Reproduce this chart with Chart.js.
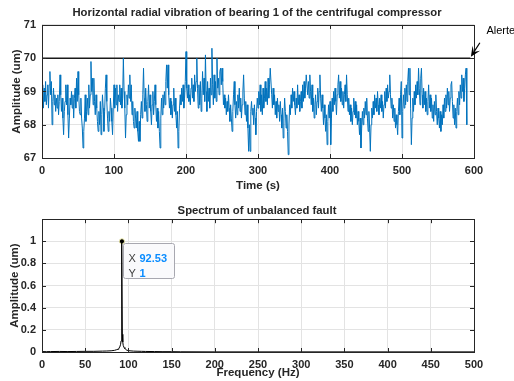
<!DOCTYPE html>
<html>
<head>
<meta charset="utf-8">
<script src="https://cdn.jsdelivr.net/npm/chart.js@4.4.0/dist/chart.umd.min.js"></script>
<style>
  html, body { margin: 0; padding: 0; background: #fff; }
  #wrap { position: relative; width: 514px; height: 381px; }
  #c1 { position: absolute; left: 0; top: 0; }
  #c2 { position: absolute; left: 0; top: 195px; }
</style>
</head>
<body>
<div id="wrap">
  <canvas id="c1" width="514" height="195"></canvas>
  <canvas id="c2" width="514" height="186"></canvas>
</div>
<script>
// vibration amplitude (um), one sample per second from t = 0 s
const sampleStep = 1;
const vibration = [
  68.6, 69.2, 68.5, 69.1, 68.7, 69.3, 68.6, 68.9, 69.2, 68.5,
  69.2, 69.6, 68.9, 69.3, 68.0, 68.7, 69.1, 68.6, 68.9, 68.4,
  68.8, 68.5, 68.9, 68.3, 68.7, 69.5, 68.9, 68.4, 68.8, 68.2,
  67.7, 68.4, 68.7, 69.2, 68.6, 69.2, 68.3, 67.6, 68.2, 68.8,
  68.6, 69.0, 68.5, 68.9, 68.2, 68.8, 69.1, 68.5, 69.4, 68.7,
  69.6, 68.9, 68.4, 68.3, 68.8, 68.2, 67.9, 67.3, 67.8, 68.2,
  68.9, 68.1, 68.4, 68.8, 68.3, 69.2, 68.5, 68.9, 69.9, 69.0,
  69.4, 68.6, 69.4, 68.7, 68.3, 68.9, 68.5, 68.1, 67.8, 68.4,
  68.0, 68.7, 67.7, 68.3, 68.9, 68.5, 67.8, 68.4, 69.1, 69.5,
  68.7, 68.2, 67.8, 68.4, 68.1, 68.8, 68.5, 68.1, 67.7, 68.5,
  69.2, 68.5, 69.1, 68.6, 69.2, 68.4, 68.9, 68.7, 69.2, 68.6,
  69.1, 68.5, 68.8, 70.0, 69.0, 68.5, 67.6, 68.3, 68.9, 68.6,
  69.2, 68.8, 69.5, 68.7, 69.2, 68.3, 68.7, 68.1, 67.9, 68.5,
  68.2, 67.9, 68.4, 67.8, 67.5, 68.1, 67.5, 68.3, 68.7, 68.2,
  68.9, 69.7, 68.8, 68.4, 69.1, 68.6, 68.1, 68.7, 69.2, 68.5,
  68.9, 68.4, 68.0, 68.6, 69.0, 68.3, 68.7, 69.2, 68.6, 68.1,
  68.5, 67.9, 68.4, 67.8, 67.3, 68.2, 68.8, 68.3, 68.9, 68.5,
  69.0, 68.6, 69.3, 69.8, 69.1, 69.8, 68.9, 68.5, 68.8, 68.3,
  68.7, 68.2, 68.6, 69.1, 68.4, 68.8, 68.3, 67.9, 68.4, 67.3,
  67.8, 68.5, 68.9, 68.6, 69.1, 68.7, 69.2, 68.5, 68.8, 69.3,
  70.2, 69.1, 68.8, 69.2, 68.7, 68.9, 68.6, 69.1, 69.4, 68.8,
  69.2, 68.7, 69.5, 69.0, 69.3, 70.0, 69.1, 68.5, 69.2, 68.6,
  69.3, 68.4, 68.8, 69.6, 68.9, 69.4, 68.7, 70.1, 69.0, 68.4,
  69.3, 68.7, 69.1, 68.5, 69.4, 68.9, 70.3, 69.2, 68.6, 69.5,
  68.8, 69.3, 68.7, 70.0, 69.1, 69.4, 68.9, 69.6, 69.7, 69.2,
  69.7, 69.3, 68.6, 68.9, 68.5, 68.8, 68.3, 68.7, 68.4, 68.9,
  68.5, 68.1, 68.6, 68.2, 67.8, 68.4, 68.9, 69.3, 68.6, 68.2,
  68.7, 68.3, 68.9, 68.5, 69.1, 68.4, 68.8, 68.2, 68.6, 69.0,
  69.5, 68.8, 68.3, 68.7, 68.1, 68.6, 67.9, 67.2, 68.0, 67.2,
  68.4, 68.7, 68.3, 68.5, 68.0, 68.6, 68.2, 67.7, 68.4, 68.8,
  68.5, 69.0, 68.6, 69.2, 68.4, 68.9, 68.3, 69.1, 68.5, 68.8,
  69.3, 68.7, 69.1, 68.6, 69.4, 68.8, 69.2, 69.7, 69.7, 68.9,
  68.5, 69.1, 68.6, 68.9, 68.3, 68.7, 68.2, 68.8, 68.4, 68.6,
  68.1, 68.7, 68.3, 67.9, 68.5, 67.6, 68.2, 68.8, 68.4, 67.9,
  68.3, 67.8, 67.1, 68.0, 68.6, 68.3, 68.9, 68.5, 69.1, 68.7,
  69.0, 68.6, 68.3, 68.8, 68.5, 69.2, 68.6, 68.9, 68.4, 68.7,
  69.0, 68.5, 69.2, 68.7, 69.3, 68.8, 69.1, 69.5, 69.5, 68.9,
  69.3, 68.8, 69.5, 69.0, 68.6, 69.2, 68.4, 68.8, 68.2, 68.6,
  68.9, 68.3, 68.7, 69.1, 68.5, 69.0, 69.5, 68.8, 68.4, 68.9,
  68.5, 68.0, 68.6, 68.2, 67.8, 68.3, 67.4, 68.1, 68.6, 68.2,
  68.7, 67.4, 68.2, 68.8, 68.4, 69.0, 68.6, 69.1, 68.7, 68.3,
  68.9, 69.2, 69.5, 68.8, 69.3, 68.7, 69.1, 68.6, 69.0, 68.5,
  68.9, 69.2, 68.7, 69.5, 68.9, 68.4, 68.8, 68.3, 68.6, 68.1,
  68.5, 68.0, 68.4, 68.8, 68.3, 68.7, 68.2, 68.6, 68.0, 68.4,
  68.1, 67.7, 68.2, 67.3, 67.9, 68.4, 68.0, 68.5, 68.2, 68.7,
  68.3, 68.8, 68.2, 67.8, 68.4, 67.9, 67.2, 68.0, 68.5, 68.2,
  68.7, 68.3, 68.9, 68.5, 68.8, 68.4, 69.0, 68.6, 68.3, 68.8,
  68.5, 68.9, 68.4, 68.7, 68.2, 68.6, 69.0, 68.5, 69.1, 68.7,
  69.2, 68.8, 69.0, 69.5, 68.9, 68.5, 68.8, 68.2, 68.6, 68.1,
  68.5, 67.9, 68.3, 68.0, 67.7, 68.4, 68.8, 68.3, 68.9, 69.3,
  67.6, 68.4, 68.9, 68.5, 69.1, 68.6, 69.2, 68.7, 69.3, 69.7,
  68.9, 69.7, 68.5, 67.4, 68.2, 68.8, 68.4, 69.0, 68.6, 69.2,
  68.8, 69.3, 68.9, 69.7, 69.1, 68.6, 69.4, 69.7, 68.9, 68.5,
  69.1, 68.6, 69.0, 68.4, 68.8, 68.3, 68.7, 69.2, 68.5, 68.9,
  68.4, 68.8, 68.2, 68.6, 68.1, 68.7, 68.3, 68.9, 68.4, 68.0,
  68.5, 68.2, 67.9, 68.4, 67.8, 68.3, 68.0, 68.6, 68.2, 68.8,
  68.4, 68.9, 68.5, 69.1, 68.6, 69.0, 68.4, 68.8, 69.2, 69.3,
  68.7, 68.2, 68.6, 68.0, 68.5, 67.9, 68.4, 68.8, 68.3, 69.0,
  68.6, 69.2, 68.8, 69.5, 69.0, 69.4, 68.7, 69.1, 69.5, 69.7,
  68.0
];
const alertTime = [0, 595];
const alertLevel = [70, 70];

// amplitude spectrum
const specFreq = [0, 5, 10, 20, 30, 40, 50, 60, 70, 75, 80, 84, 86, 88, 89, 90, 91, 91.5, 92, 92.53,
                  93, 93.5, 94, 95, 96, 97, 98, 100, 103, 106, 110, 115, 120, 130, 140, 150, 160, 200, 300, 400, 500];
const specAmp = [0.004, 0.003, 0.004, 0.005, 0.004, 0.005, 0.006, 0.006, 0.008, 0.009, 0.011, 0.015, 0.02, 0.025, 0.035, 0.045, 0.07, 0.1, 0.17, 1,
                 0.16, 0.09, 0.06, 0.04, 0.03, 0.022, 0.017, 0.012, 0.01, 0.008, 0.007, 0.006, 0.005, 0.004, 0.003, 0.003, 0.002, 0.001, 0.001, 0.001, 0.001];
const peakFreq = 92.53;
const peakAmp = 1;

const axisColor = '#262626';
const gridColor = '#e3e3e3';
const lineBlue = '#0072BD';
const fontFamily = "'Liberation Sans', Arial, Helvetica, sans-serif";

Chart.defaults.font.family = fontFamily;
Chart.defaults.font.size = 11;
Chart.defaults.font.weight = 'bold';
Chart.defaults.color = axisColor;

// box around the axes + inward tick marks like matlab
const boxTicks = {
  id: 'boxTicks',
  afterDatasetsDraw(chart) {
    const {ctx, chartArea: a, scales: {x, y}} = chart;
    const len = 4;
    ctx.save();
    ctx.strokeStyle = axisColor;
    ctx.lineWidth = 1;
    ctx.beginPath();
    x.ticks.forEach(t => {
      const px = Math.round(x.getPixelForValue(t.value)) + 0.5;
      ctx.moveTo(px, a.bottom); ctx.lineTo(px, a.bottom - len);
      ctx.moveTo(px, a.top); ctx.lineTo(px, a.top + len);
    });
    y.ticks.forEach(t => {
      const py = Math.round(y.getPixelForValue(t.value)) + 0.5;
      ctx.moveTo(a.left, py); ctx.lineTo(a.left + len, py);
      ctx.moveTo(a.right, py); ctx.lineTo(a.right - len, py);
    });
    ctx.stroke();
    ctx.strokeRect(Math.round(a.left) + 0.5, Math.round(a.top) + 0.5,
                   Math.round(a.right - a.left), Math.round(a.bottom - a.top));
    ctx.restore();
  }
};

// "Alerte" arrow pointing at the end of the alert line
const alertArrow = {
  id: 'alertArrow',
  afterDraw(chart) {
    const {ctx, scales: {x, y}} = chart;
    const tipX = x.getPixelForValue(alertTime[1]) + 0.5;
    const tipY = y.getPixelForValue(alertLevel[1]) - 1.5;
    const tailX = tipX + 9, tailY = tipY - 14;
    const ang = Math.atan2(tipY - tailY, tipX - tailX);
    const hl = 10, hw = 4.5;
    ctx.save();
    ctx.strokeStyle = '#000';
    ctx.fillStyle = '#000';
    ctx.lineWidth = 1.2;
    ctx.beginPath();
    ctx.moveTo(tailX, tailY);
    ctx.lineTo(tipX - Math.cos(ang) * hl * 0.6, tipY - Math.sin(ang) * hl * 0.6);
    ctx.stroke();
    const bx = tipX - Math.cos(ang) * hl, by = tipY - Math.sin(ang) * hl;
    ctx.beginPath();
    ctx.moveTo(tipX, tipY);
    ctx.lineTo(bx + Math.sin(ang) * hw, by - Math.cos(ang) * hw);
    ctx.lineTo(tipX - Math.cos(ang) * hl * 0.55, tipY - Math.sin(ang) * hl * 0.55);
    ctx.lineTo(bx - Math.sin(ang) * hw, by + Math.cos(ang) * hw);
    ctx.closePath();
    ctx.fill();
    ctx.font = '11px ' + fontFamily;
    ctx.textAlign = 'left';
    ctx.textBaseline = 'middle';
    ctx.fillText('Alerte', tipX + 15.5, tipY - 26);
    ctx.restore();
  }
};

// matlab style data tip on the spectrum peak
const dataTip = {
  id: 'dataTip',
  afterDraw(chart) {
    const {ctx, scales: {x, y}} = chart;
    const px = Math.round(x.getPixelForValue(peakFreq));
    const py = Math.round(y.getPixelForValue(peakAmp));
    const bx = px + 1.5, by = py + 2.5, bw = 51, bh = 35;
    ctx.save();
    ctx.fillStyle = 'rgba(250,250,252,0.95)';
    ctx.strokeStyle = '#a8a8b0';
    ctx.lineWidth = 1;
    ctx.beginPath();
    ctx.roundRect(bx, by, bw, bh, 2);
    ctx.fill();
    ctx.stroke();
    ctx.textBaseline = 'middle';
    ctx.textAlign = 'left';
    ctx.font = '11px ' + fontFamily;
    ctx.fillStyle = '#404040';
    ctx.fillText('X', bx + 5, by + 15);
    ctx.fillText('Y', bx + 5, by + 30);
    ctx.font = 'bold 11px ' + fontFamily;
    ctx.fillStyle = '#0a8cff';
    ctx.fillText(String(peakFreq), bx + 16, by + 15);
    ctx.fillText(String(peakAmp), bx + 16, by + 30);
    ctx.restore();
  }
};

function axisOpts(min, max, step, title, titlePad) {
  return {
    type: 'linear',
    min: min,
    max: max,
    ticks: { stepSize: step, padding: 6, color: axisColor, font: { size: 11, weight: 'bold' } },
    grid: { color: gridColor, drawTicks: false, lineWidth: 1 },
    border: { display: false },
    title: { display: true, text: title, color: axisColor, font: { size: 11.5, weight: 'bold' }, padding: titlePad }
  };
}

// empty right axis, only keeps the right margin so titles stay centred on the page
const spacerAxis = {
  position: 'right',
  ticks: { display: false },
  grid: { display: false, drawTicks: false },
  border: { display: false },
  afterFit: s => { s.width = 40; }
};

// top chart : vibration in time
const vibPoints = vibration.map((v, i) => ({ x: i * sampleStep, y: v }));
const alertPoints = alertTime.map((t, i) => ({ x: t, y: alertLevel[i] }));

const topX = axisOpts(0, 600, 100, 'Time (s)', { top: 0, bottom: 2 });
topX.afterFit = s => { s.height = 37; };
const topY = axisOpts(67, 71, 1, 'Amplitude (um)', { top: 10, bottom: 0 });
topY.afterFit = s => { s.width = 42; };

new Chart(document.getElementById('c1'), {
  type: 'line',
  data: {
    datasets: [
      { data: vibPoints, yAxisID: 'y', borderColor: lineBlue, borderWidth: 1, pointRadius: 0, tension: 0 },
      { data: alertPoints, yAxisID: 'y', borderColor: '#1a1a1a', borderWidth: 1.6, pointRadius: 0, tension: 0 }
    ]
  },
  options: {
    responsive: false,
    animation: false,
    layout: { padding: 0 },
    plugins: {
      legend: { display: false },
      tooltip: { enabled: false },
      title: {
        display: true,
        text: 'Horizontal radial vibration of bearing 1 of the centrifugal compressor',
        color: axisColor,
        font: { size: 11.3, weight: 'bold' },
        padding: { top: 6.2, bottom: 5.2 }
      }
    },
    scales: { x: topX, y: topY, yr: spacerAxis }
  },
  plugins: [boxTicks, alertArrow]
});

// bottom chart : spectrum
const specPoints = specFreq.map((f, i) => ({ x: f, y: specAmp[i] }));

const botX = axisOpts(0, 500, 50, 'Frequency (Hz)', { top: 0, bottom: 1 });
botX.afterFit = s => { s.height = 29; };
const botY = axisOpts(0, 1.2, 0.2, 'Amplitude (um)', { top: 8.2, bottom: 0 });
botY.afterFit = s => { s.width = 42; };
botY.ticks.callback = v => (v > 1.1 ? '' : String(Math.round(v * 10) / 10));

new Chart(document.getElementById('c2'), {
  type: 'line',
  data: {
    datasets: [
      { data: specPoints, yAxisID: 'y', borderColor: '#000', borderWidth: 1, pointRadius: 0, tension: 0 },
      { data: [{ x: peakFreq, y: peakAmp }], yAxisID: 'y', showLine: false, pointRadius: 2.6,
        pointBackgroundColor: '#000', pointBorderColor: '#f3f0b0', pointBorderWidth: 1 }
    ]
  },
  options: {
    responsive: false,
    animation: false,
    layout: { padding: 0 },
    plugins: {
      legend: { display: false },
      tooltip: { enabled: false },
      title: {
        display: true,
        text: 'Spectrum of unbalanced fault',
        color: axisColor,
        font: { size: 11.3, weight: 'bold' },
        padding: { top: 9, bottom: 1.6 }
      }
    },
    scales: { x: botX, y: botY, yr: { ...spacerAxis } }
  },
  plugins: [boxTicks, dataTip]
});
</script>
</body>
</html>
